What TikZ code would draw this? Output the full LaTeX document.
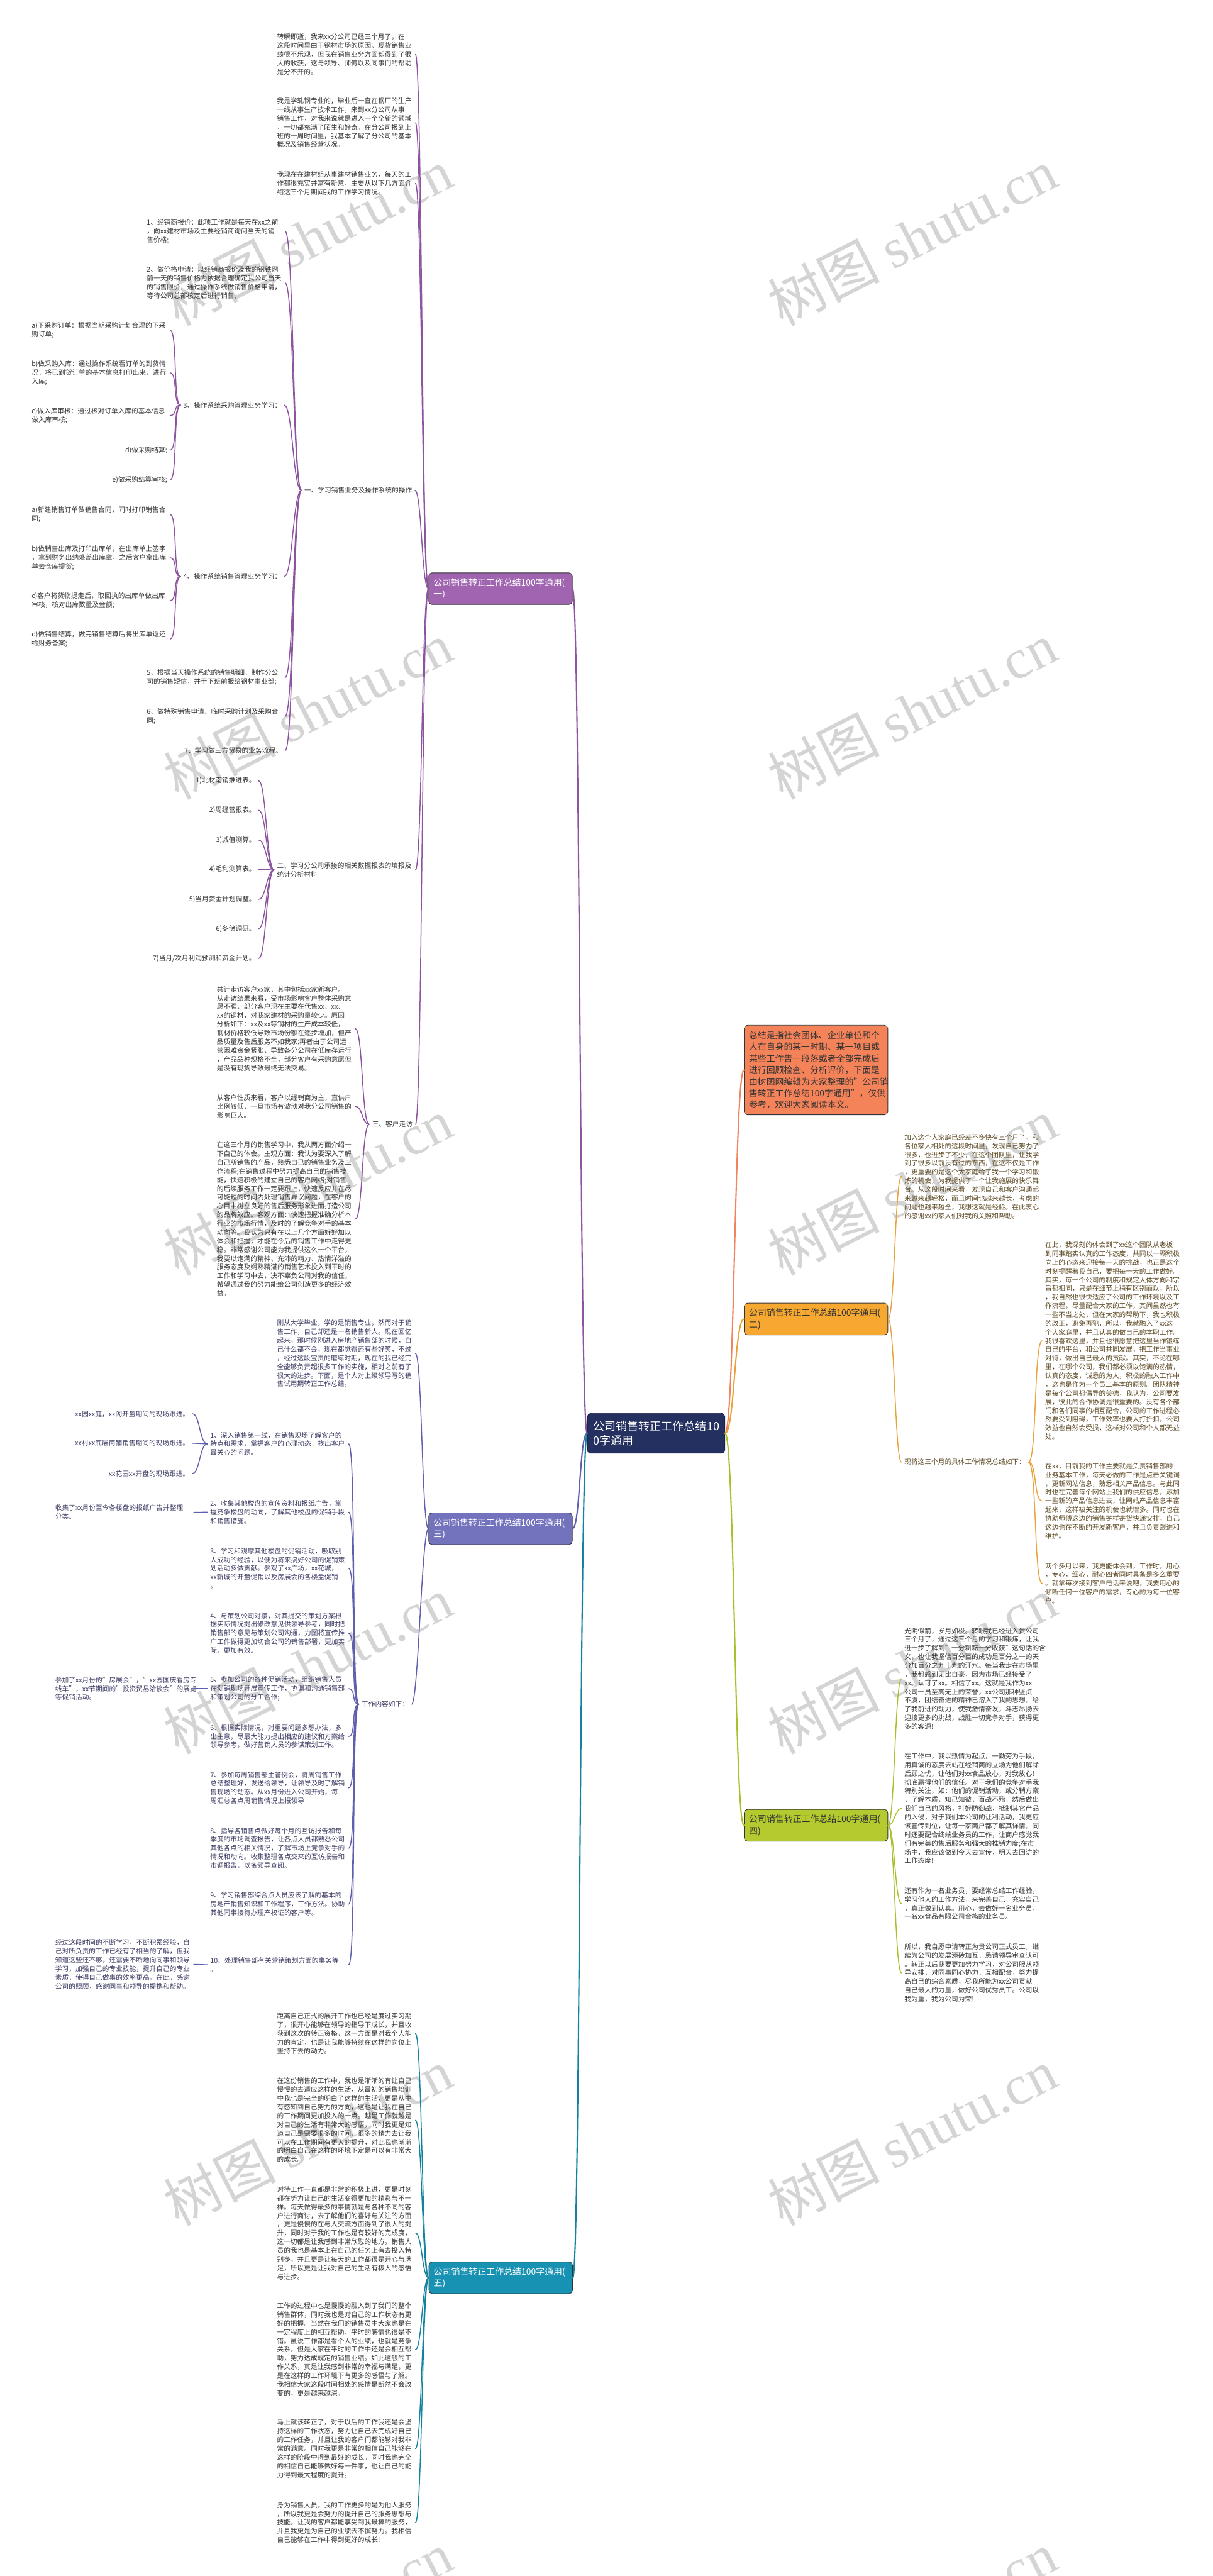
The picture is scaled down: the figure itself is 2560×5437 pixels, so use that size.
\documentclass[tikz,border=0pt]{standalone}
\usepackage{fontspec}
\setmainfont{Noto Sans CJK SC}
\newfontfamily\wmserif{Liberation Serif}
\usetikzlibrary{calc}
\definecolor{cCenter}{HTML}{24305F}
\definecolor{p1fill}{HTML}{A064B0}\definecolor{p1line}{HTML}{8C539E}
\definecolor{p3fill}{HTML}{7373BD}\definecolor{p3line}{HTML}{5F5FAE}
\definecolor{p5fill}{HTML}{1792B2}\definecolor{p5line}{HTML}{13829F}
\definecolor{p2fill}{HTML}{F6A830}\definecolor{p2line}{HTML}{EAA23A}
\definecolor{pdfill}{HTML}{F5835A}\definecolor{pdline}{HTML}{F0845E}
\definecolor{p4fill}{HTML}{B5CA2E}\definecolor{p4line}{HTML}{A9C02B}
\definecolor{t1}{HTML}{333333}\definecolor{t3}{HTML}{3A3A62}\definecolor{t2}{HTML}{5B4722}
\tikzset{
 lf/.style={font=\fontsize{14.2pt}{18.4pt}\selectfont, inner xsep=6pt, inner ysep=1pt, align=left},
 lw/.style={lf, text width=286pt},
 box/.style={draw=black!80, line width=1.2pt, rounded corners=7pt, text width=283pt, minimum height=67pt, inner xsep=10pt, inner ysep=6pt, align=left, font=\fontsize{18.5pt}{24.5pt}\selectfont},
 cnode/.style={draw=cCenter!70!black, line width=1.2pt, fill=cCenter, text=white, rounded corners=7pt, text width=266pt, minimum height=84pt, inner xsep=12pt, align=left, font=\fontsize{24pt}{30pt}\selectfont},
 wm/.style={rotate=27, inner sep=0pt, text=black!17, font=\fontsize{118pt}{118pt}\selectfont},
 e/.style={line width=2pt, line cap=round},
 ebig/.style={line width=2.8pt, line cap=round},
 lc/.style={to path={.. controls +(-#1,0) and +(#1,0) .. (\tikztotarget)}},
 rc/.style={to path={.. controls +(#1,0) and +(-#1,0) .. (\tikztotarget)}},
}
\begin{document}
\begin{tikzpicture}[x=1pt,y=-1pt]
\useasboundingbox (0,0) rectangle (2560,5437);
\fill[white] (0,0) rectangle (2560,5437);
% watermarks
\foreach \yy [count=\k] in {500,1500,2505,3515,4510,5530}{
  \node[wm] (wmL\k) at (650,\yy) {树图 {\wmserif shutu.cn}};
  \node[wm] (wmR\k) at (1925,\yy) {树图 {\wmserif shutu.cn}};
}
% center
\node[cnode] (C) at (1385,3025) {公司销售转正工作总结10\\0字通用};
% boxes
\node[box, fill=p1fill, text=white] (B1) at (1056.5,1242.5) {公司销售转正工作总结100字通用(\\一)};
\node[box, fill=p3fill, text=white] (B3) at (1056.5,3226.5) {公司销售转正工作总结100字通用(\\三)};
\node[box, fill=p5fill, text=white] (B5) at (1057,4807.5) {公司销售转正工作总结100字通用(\\五)};
\node[box, fill=pdfill, text=t1, minimum height=189pt, font=\fontsize{18.4pt}{24.5pt}\selectfont] (D) at (1722.5,2258.5) {总结是指社会团体、企业单位和个\\人在自身的某一时期、某一项目或\\某些工作告一段落或者全部完成后\\进行回顾检查、分析评价，下面是\\由树图网编辑为大家整理的"公司销\\售转正工作总结100字通用"，仅供\\参考，欢迎大家阅读本文。};
\node[box, fill=p2fill, text=t1] (B2) at (1722.5,2784) {公司销售转正工作总结100字通用(\\二)};
\node[box, fill=p4fill, text=t1] (B4) at (1722.5,3852.5) {公司销售转正工作总结100字通用(\\四)};

% ---------- branch 1 ----------
\begin{scope}[every node/.append style={text=t1}]
\node[lw, anchor=east] (p1a) at (877,115) {转瞬即逝，我来xx分公司已经三个月了，在\\这段时间里由于钢材市场的原因，现货销售业\\绩很不乐观，但我在销售业务方面却得到了很\\大的收获，这与领导、师傅以及同事们的帮助\\是分不开的。};
\node[lw, anchor=east] (p1b) at (877,259) {我是学轧钢专业的，毕业后一直在钢厂的生产\\一线从事生产技术工作，来到xx分公司从事\\销售工作，对我来说就是进入一个全新的领域\\，一切都充满了陌生和好奇。在分公司报到上\\班的一周时间里，我基本了解了分公司的基本\\概况及销售经营状况。};
\node[lw, anchor=east] (p1c) at (877,387) {我现在在建材组从事建材销售业务，每天的工\\作都很充实并富有新意，主要从以下几方面介\\绍这三个月期间我的工作学习情况。};
\node[lf, anchor=east] (n1) at (876,1035) {一、学习销售业务及操作系统的操作};
\node[lw, anchor=east] (n2) at (877,1836) {二、学习分公司承接的相关数据报表的填报及\\统计分析材料};
\node[lf, anchor=east] (n3) at (877,2373) {三、客户走访};
\node[lw, anchor=east] (i1) at (602,488) {1、经销商报价：此项工作就是每天在xx之前\\，向xx建材市场及主要经销商询问当天的销\\售价格;};
\node[lw, anchor=east] (i2) at (602,597) {2、做价格申请：以经销商报价及我的钢铁网\\前一天的销售价格为依据合理确定我公司当天\\的销售限价，通过操作系统做销售价格申请，\\等待公司总部核定后进行销售;};
\node[lf, anchor=east] (i3) at (600,855) {3、操作系统采购管理业务学习：};
\node[lf, anchor=east] (i4) at (600,1217) {4、操作系统销售管理业务学习：};
\node[lw, anchor=east] (i5) at (602,1430) {5、根据当天操作系统的销售明细，制作分公\\司的销售短信，并于下班前报给钢材事业部;};
\node[lw, anchor=east] (i6) at (602,1512) {6、做特殊销售申请、临时采购计划及采购合\\同;};
\node[lf, anchor=east] (i7) at (602,1584) {7、学习做三方贸易的业务流程。};
\node[lw, anchor=east] (i3a) at (359,697) {a)下采购订单：根据当期采购计划合理的下采\\购订单;};
\node[lw, anchor=east] (i3b) at (359,787) {b)做采购入库：通过操作系统看订单的到货情\\况，将已到货订单的基本信息打印出来，进行\\入库;};
\node[lw, anchor=east] (i3c) at (359,877) {c)做入库审核：通过核对订单入库的基本信息\\做入库审核;};
\node[lf, anchor=east] (i3d) at (359,950) {d)做采购结算;};
\node[lf, anchor=east] (i3e) at (359,1013) {e)做采购结算审核;};
\node[lw, anchor=east] (i4a) at (359,1086) {a)新建销售订单做销售合同，同时打印销售合\\同;};
\node[lw, anchor=east] (i4b) at (359,1177) {b)做销售出库及打印出库单，在出库单上签字\\，拿到财务出纳处盖出库章，之后客户拿出库\\单去仓库提货;};
\node[lw, anchor=east] (i4c) at (359,1268) {c)客户将货物提走后，取回执的出库单做出库\\审核，核对出库数量及金额;};
\node[lw, anchor=east] (i4d) at (359,1349) {d)做销售结算，做完销售结算后将出库单返还\\给财务备案;};
\node[lf, anchor=east] (m1) at (546,1648) {1)北材南销推进表。};
\node[lf, anchor=east] (m2) at (546,1710) {2)周经营报表。};
\node[lf, anchor=east] (m3) at (546,1773) {3)减值测算。};
\node[lf, anchor=east] (m4) at (546,1835) {4)毛利测算表。};
\node[lf, anchor=east] (m5) at (546,1898) {5)当月资金计划调整。};
\node[lf, anchor=east] (m6) at (546,1960) {6)冬储调研。};
\node[lf, anchor=east] (m7) at (546,2023) {7)当月/次月利润预测和资金计划。};
\node[lw, anchor=east] (k1) at (750,2171) {共计走访客户xx家，其中包括xx家新客户。\\从走访结果来看，受市场影响客户整体采购意\\愿不强，部分客户现在主要在代售xx、xx、\\xx的钢材，对我家建材的采购量较少。原因\\分析如下：xx及xx等钢材的生产成本较低，\\钢材价格较低导致市场份额在逐步增加，但产\\品质量及售后服务不如我家;再者由于公司运\\营困难资金紧张，导致各分公司在低库存运行\\，产品品种规格不全，部分客户有采购意愿但\\是没有现货导致最终无法交易。};
\node[lw, anchor=east] (k2) at (750,2335) {从客户性质来看，客户以经销商为主，直供户\\比例较低，一旦市场有波动对我分公司销售的\\影响巨大。};
\node[lw, anchor=east] (k3) at (750,2573) {在这三个月的销售学习中，我从两方面介绍一\\下自己的体会。主观方面：我认为要深入了解\\自己所销售的产品，熟悉自己的销售业务及工\\作流程;在销售过程中努力提高自己的销售技\\能，快速积极的建立自己的客户网络;对销售\\的后续服务工作一定要跟上，快速反应并在尽\\可能短的时间内处理销售异议问题，在客户的\\心目中树立良好的售后服务形象进而打造公司\\的品牌效应。客观方面：快速把握准确分析本\\行业的市场行情，及时的了解竞争对手的基本\\动向等。我认为只有在以上几个方面好好加以\\体会和把握，才能在今后的销售工作中走得更\\稳。非常感谢公司能为我提供这么一个平台，\\我要以饱满的精神、充沛的精力、热情洋溢的\\服务态度及娴熟精湛的销售艺术投入到平时的\\工作和学习中去，决不辜负公司对我的信任，\\希望通过我的努力能给公司创造更多的经济效\\益。};
\end{scope}

% ---------- branch 3 ----------
\begin{scope}[every node/.append style={text=t3}]
\node[lw, anchor=east] (q0) at (877,2857) {刚从大学毕业，学的是销售专业，然而对于销\\售工作，自己却还是一名销售新人。现在回忆\\起来，那时候刚进入房地产销售部的时候，自\\己什么都不会，现在都觉得还有些好笑，不过\\，经过这段宝贵的磨练时期，现在的我已经完\\全能够负责起很多工作的实施，相对之前有了\\很大的进步。下面，是个人对上级领导写的销\\售试用期转正工作总结。};
\node[lf, anchor=east] (w) at (869,3597) {工作内容如下：};
\node[lw, anchor=east] (w1) at (736,3047.5) {1、深入销售第一线，在销售现场了解客户的\\特点和需求，掌握客户的心理动态，找出客户\\最关心的问题。};
\node[lw, anchor=east] (w2) at (736,3191.5) {2、收集其他楼盘的宣传资料和报纸广告，掌\\握竞争楼盘的动向，了解其他楼盘的促销手段\\和销售措施。};
\node[lw, anchor=east] (w3) at (736,3310) {3、学习和观摩其他楼盘的促销活动，吸取别\\人成功的经验，以便为将来搞好公司的促销策\\划活动多做贡献。参观了xx广场，xx花城，\\xx新城的开盘促销以及房展会的各楼盘促销\\。};
\node[lw, anchor=east] (w4) at (736,3447) {4、与策划公司对接，对其提交的策划方案根\\据实际情况提出修改意见供领导参考，同时把\\销售部的意见与策划公司沟通，力图将宣传推\\广工作做得更加切合公司的销售部署，更加实\\际，更加有效。};
\node[lw, anchor=east] (w5) at (736,3564) {5、参加公司的各种促销活动，组织销售人员\\在促销现场开展宣传工作，协调和沟通销售部\\和策划公司的分工合作;};
\node[lw, anchor=east] (w6) at (736,3665) {6、根据实际情况，对重要问题多想办法，多\\出主意，尽最大能力提出相应的建议和方案给\\领导参考，做好营销人员的参谋策划工作。};
\node[lw, anchor=east] (w7) at (736,3773.5) {7、参加每周销售部主管例会，将周销售工作\\总结整理好，发送给领导，让领导及时了解销\\售现场的动态。从xx月份进入公司开始，每\\周汇总各点周销售情况上报领导};
\node[lw, anchor=east] (w8) at (736,3901) {8、指导各销售点做好每个月的互访报告和每\\季度的市场调查报告，让各点人员都熟悉公司\\其他各点的相关情况，了解市场上竞争对手的\\情况和动向。收集整理各点交来的互访报告和\\市调报告，以备领导查阅。};
\node[lw, anchor=east] (w9) at (736,4019) {9、学习销售部综合点人员应该了解的基本的\\房地产销售知识和工作程序，工作方法。协助\\其他同事接待办理产权证的客户等。};
\node[lw, anchor=east] (w10) at (736,4147) {10、处理销售部有关营销策划方面的事务等\\。};
\node[lf, anchor=east] (x1) at (406,2984) {xx园xx庭，xx阁开盘期间的现场跟进。};
\node[lf, anchor=east] (x2) at (406,3046) {xx村xx底层商铺销售期间的现场跟进。};
\node[lf, anchor=east] (x3) at (406,3110) {xx花园xx开盘的现场跟进。};
\node[lw, anchor=east] (y2) at (409,3192) {收集了xx月份至今各楼盘的报纸广告并整理\\分类。};
\node[lw, anchor=east] (y5) at (409,3564) {参加了xx月份的"房展会"，"xx园国庆看房专\\线车"，xx节期间的"投资贸易洽谈会"的展览\\等促销活动。};
\node[lw, anchor=east] (y10) at (409,4146) {经过这段时间的不断学习，不断积累经验，自\\己对所负责的工作已经有了相当的了解，但我\\知道这些还不够，还需要不断地向同事和领导\\学习，加强自己的专业技能，提升自己的专业\\素质，使得自己做事的效率更高。在此，感谢\\公司的照顾，感谢同事和领导的提携和帮助。};
\end{scope}

% ---------- branch 5 ----------
\begin{scope}[every node/.append style={text=t1}]
\node[lw, anchor=east] (v1) at (877,4292) {距离自己正式的展开工作也已经是度过实习期\\了，很开心能够在领导的指导下成长，并且收\\获到这次的转正资格，这一方面是对我个人能\\力的肯定，也是让我能够持续在这样的岗位上\\坚持下去的动力。};
\node[lw, anchor=east] (v2) at (877,4475) {在这份销售的工作中，我也是渐渐的有让自己\\慢慢的去适应这样的生活，从最初的销售培训\\中我也是完全的明白了这样的生活，更是从中\\有感知到自己努力的方向，这也是让我在自己\\的工作期间更加投入的一点。越是工作就越是\\对自己的生活有非常大的感悟，同时我更是知\\道自己是需要很多的时间，很多的精力去让我\\可以在工作期间有更大的提升，对此我也渐渐\\的明白自己在这样的环境下定是可以有非常大\\的成长。};
\node[lw, anchor=east] (v3) at (877,4713) {对待工作一直都是非常的积极上进，更是时刻\\都在努力让自己的生活变得更加的精彩与不一\\样。每天做得最多的事情就是与各种不同的客\\户进行商讨，去了解他们的喜好与关注的方面\\，更是慢慢的在与人交流方面得到了很大的提\\升，同时对于我的工作也是有较好的完成度，\\这一切都是让我感到非常欣慰的地方。销售人\\员的我也是基本上在自己的任务上有去投入特\\别多，并且更是让每天的工作都很是开心与满\\足，所以更是让我对自己的生活有极大的感悟\\与进步。};
\node[lw, anchor=east] (v4) at (877,4959) {工作的过程中也是慢慢的融入到了我们的整个\\销售群体，同时我也是对自己的工作状态有更\\好的把握。当然在我们的销售员中大家也是在\\一定程度上的相互帮助，平时的感情也很是不\\错。虽说工作都是看个人的业绩，也就是竞争\\关系，但是大家在平时的工作中还是会相互帮\\助，努力达成规定的销售业绩。如此这般的工\\作关系，真是让我感到非常的幸福与满足，更\\是在这样的工作环境下有更多的感悟与了解。\\我相信大家这段时间相处的感情是断然不会改\\变的，更是越来越深。};
\node[lw, anchor=east] (v5) at (877,5168) {马上就该转正了，对于以后的工作我还是会坚\\持这样的工作状态，努力让自己去完成好自己\\的工作任务，并且让我的客户们都能够对我非\\常的满意。同时我更是非常的相信自己能够在\\这样的阶段中得到最好的成长。同时我也完全\\的相信自己能够做好每一件事，也让自己的能\\力得到最大程度的提升。};
\node[lw, anchor=east] (v6) at (877,5324) {身为销售人员，我的工作更多的是为他人服务\\，所以我更是会努力的提升自己的服务思想与\\技能，让我的客户都能享受到我最棒的服务，\\并且我更是为自己的业绩去不懈努力。我相信\\自己能够在工作中得到更好的成长!};
\end{scope}

% ---------- branch 2 ----------
\begin{scope}[every node/.append style={text=t2}]
\node[lw, anchor=west] (r1) at (1903,2483) {加入这个大家庭已经差不多快有三个月了，和\\各位家人相处的这段时间里，发现自己努力了\\很多，也进步了不少，在这个团队里，让我学\\到了很多以前没有过的东西，在这不仅是工作\\，更重要的是这个大家庭给了我一个学习和锻\\炼的机会，为我提供了一个让我施展的快乐舞\\台。从这段时间来看，发现自己和客户沟通起\\来越来越轻松，而且时间也越来越长，考虑的\\问题也越来越全，我想这就是经验。在此衷心\\的感谢xx的家人们对我的关照和帮助。};
\node[lf, anchor=west] (r2) at (1903,3086) {现将这三个月的具体工作情况总结如下：};
\node[lw, anchor=west] (s1) at (2200,2830) {在此，我深刻的体会到了xx这个团队从老板\\到同事踏实认真的工作态度，共同以一颗积极\\向上的心态来迎接每一天的挑战，也正是这个\\时刻提醒着我自己，要把每一天的工作做好。\\其实，每一个公司的制度和规定大体方向和宗\\旨都相同，只是在细节上稍有区别而以，所以\\，我自然也很快适应了公司的工作环境以及工\\作流程，尽量配合大家的工作，其间虽然也有\\一些不当之处，但在大家的帮助下，我也积极\\的改正，避免再犯，所以，我就融入了xx这\\个大家庭里，并且认真的做自己的本职工作。\\我很喜欢这里，并且也很愿意把这里当作锻练\\自己的平台，和公司共同发展，把工作当事业\\对待，做出自己最大的贡献。其实，不论在哪\\里，在哪个公司，我们都必须以饱满的热情，\\认真的态度，诚恳的为人，积极的融入工作中\\，这也是作为一个员工基本的原则。团队精神\\是每个公司都倡导的美德，我认为，公司要发\\展，彼此的合作协调是很重要的。没有各个部\\门和各们同事的相互配合，公司的工作进程必\\然要受到阻碍，工作效率也要大打折扣，公司\\效益也自然会受损，这样对公司和个人都无益\\处。};
\node[lw, anchor=west] (s2) at (2200,3168) {在xx，目前我的工作主要就是负责销售部的\\业务基本工作，每天必做的工作是点击关键词\\，更新网站信息，熟悉相关产品信息。与此同\\时也在完善每个网站上我们的供应信息，添加\\一些新的产品信息进去，让网站产品信息丰富\\起来，这样被关注的机会也就增多。同时也在\\协助师傅这边的销售寄样寄货快递安排，自己\\这边也在不断的开发新客户，并且负责跟进和\\维护。};
\node[lw, anchor=west] (s3) at (2200,3342) {两个多月以来，我更能体会到，工作时，用心\\，专心，细心，耐心四者同时具备是多么重要\\。就拿每次接到客户电话来说吧，我要用心的\\倾听任何一位客户的需求，专心的为每一位客\\户。};
\end{scope}

% ---------- branch 4 ----------
\begin{scope}[every node/.append style={text=t1}]
\node[lw, anchor=west] (t1n) at (1903,3543) {光阴似箭，岁月如梭。转眼我已经进入贵公司\\三个月了，通过这三个月的学习和锻炼，让我\\进一步了解到"一分耕耘一分收获"这句话的含\\义，也让我坚信百分百的成功是百分之一的天\\分加百分之九十九的汗水。每当我走在市场里\\，我都感到无比自豪，因为市场已经接受了\\xx。认可了xx。相信了xx。这就是我作为xx\\公司一员至高无上的荣誉，xx公司那种坚贞\\不虞，团结奋进的精神已溶入了我的思想，给\\了我前进的动力，使我激情奋发，斗志昂扬去\\迎接更多的挑战，战胜一切竞争对手，获得更\\多的客源!};
\node[lw, anchor=west] (t2n) at (1903,3817) {在工作中，我以热情为起点，一勤劳为手段，\\用真诚的态度去站在经销商的立场为他们解除\\后顾之忧，让他们对xx食品放心，对我放心!\\彻底赢得他们的信任。对于我们的竞争对手我\\特别关注，如：他们的促销活动，或分销方案\\，了解本质，知己知彼，百战不殆，然后做出\\我们自己的风格，打好防御战，抵制其它产品\\的入侵，对于我们本公司的让利活动，我更应\\该宣传到位，让每一家商户都了解其详情，同\\时还要配合终端业务员的工作，让商户感觉我\\们有完美的售后服务和强大的推销力度;在市\\场中，我应该做到今天去宣传，明天去回访的\\工作态度!};
\node[lw, anchor=west] (t3n) at (1903,4018) {还有作为一名业务员，要经常总结工作经验，\\学习他人的工作方法，来完善自己，充实自己\\，真正做到认真。用心，去做好一名业务员，\\一名xx食品有限公司合格的业务员。};
\node[lw, anchor=west] (t4n) at (1903,4164) {所以，我自愿申请转正为贵公司正式员工，继\\续为公司的发展添砖加瓦，恳请领导审查认可\\。转正以后我要更加努力学习，对公司服从领\\导安排，对同事同心协力，互相配合，努力提\\高自己的综合素质，尽我所能为xx公司贡献\\自己最大的力量，做好公司优秀员工。公司以\\我为重，我为公司为荣!};
\end{scope}

% ---------- connectors ----------
\draw[ebig, p1line] (C.west) to[lc=16] (B1.east);
\draw[ebig, p3line] (C.west) to[lc=16] (B3.east);
\draw[ebig, p5line] (C.west) to[lc=16] (B5.east);
\draw[ebig, pdline] (C.east) to[rc=20] (D.west);
\draw[ebig, p2line] (C.east) to[rc=20] (B2.west);
\draw[ebig, p4line] (C.east) to[rc=20] (B4.west);

\foreach \c in {p1a,p1b,p1c,n1,n2,n3} \draw[e, p1line] (B1.west) to[lc=14] (\c.east);
\foreach \c in {i1,i2,i3,i4,i5,i6,i7} \draw[e, p1line] (n1.west) to[lc=18] (\c.east);
\foreach \c in {i3a,i3b,i3c,i3d,i3e} \draw[e, p1line] (i3.west) to[lc=16] (\c.east);
\foreach \c in {i4a,i4b,i4c,i4d} \draw[e, p1line] (i4.west) to[lc=16] (\c.east);
\foreach \c in {m1,m2,m3,m4,m5,m6,m7} \draw[e, p1line] (n2.west) to[lc=16] (\c.east);
\foreach \c in {k1,k2,k3} \draw[e, p1line] (n3.west) to[lc=16] (\c.east);

\foreach \c in {q0,w} \draw[e, p3line] (B3.west) to[lc=14] (\c.east);
\foreach \c in {w1,w2,w3,w4,w5,w6,w7,w8,w9,w10} \draw[e, p3line] (w.west) to[lc=16] (\c.east);
\foreach \c in {x1,x2,x3} \draw[e, p3line] (w1.west) to[lc=16] (\c.east);
\draw[e, p3line] (w2.west) -- (y2.east);
\draw[e, p3line] (w5.west) -- (y5.east);
\draw[e, p3line] (w10.west) -- (y10.east);

\foreach \c in {v1,v2,v3,v4,v5,v6} \draw[e, p5line] (B5.west) to[lc=14] (\c.east);

\foreach \c in {r1,r2} \draw[e, p2line] (B2.east) to[rc=14] (\c.west);
\foreach \c in {s1,s2,s3} \draw[e, p2line] (r2.east) to[rc=18] (\c.west);
\foreach \c in {t1n,t2n,t3n,t4n} \draw[e, p4line] (B4.east) to[rc=14] (\c.west);
\end{tikzpicture}
\end{document}
